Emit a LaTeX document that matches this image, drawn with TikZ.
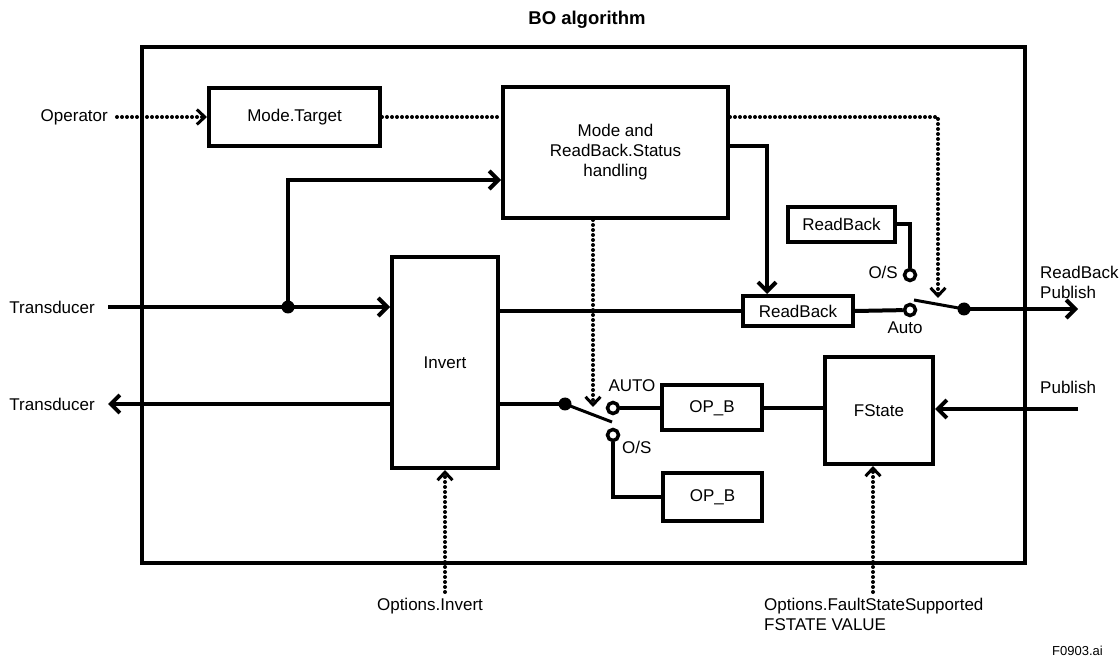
\documentclass[tikz,border=0pt]{standalone}
\usepackage{fontspec}
\setmainfont{Liberation Sans}
\usetikzlibrary{arrows.meta}
\newcommand\lbl{\fontsize{17}{20}\selectfont}
\tikzset{
  blk/.style={draw, line width=4pt, inner sep=0pt, font=\lbl, align=center},
  wire/.style={line width=4pt, line join=miter},
  dotw/.style={line width=4pt, line cap=round, dash pattern=on 0pt off 5pt},
  sarr/.style={-{Straight Barb[length=9pt,width=18pt]}},
  darr/.style={-{Straight Barb[length=8pt,width=15pt,line width=3pt]}},
  term/.style={circle, draw, line width=3.5pt, fill=white, minimum size=11pt, inner sep=0pt},
  jdot/.style={circle, fill, minimum size=13pt, inner sep=0pt},
  txt/.style={font=\lbl, inner sep=0pt}
}
\begin{document}
\begin{tikzpicture}[x=1pt,y=-1pt]
\useasboundingbox (0,0) rectangle (1120,660);
% title
\node[font=\fontsize{18.5}{22}\selectfont\bfseries, inner sep=0pt] (title) at (587,20) {BO algorithm};
% frame
\node[draw, line width=4pt, minimum width=883pt, minimum height=516pt, inner sep=0pt] (frame) at (583.5,305) {};
% blocks
\node[blk, minimum width=171pt, minimum height=58pt] (mt) at (294.5,117) {Mode.Target};
\node[blk, minimum width=225pt, minimum height=131pt] (mode) at (615.5,152.5) {Mode and\\ReadBack.Status\\handling};
\node[blk, minimum width=107pt, minimum height=35pt] (rb1) at (841.5,224.5) {ReadBack};
\node[blk, minimum width=110pt, minimum height=30pt] (rb2) at (798,311) {ReadBack};
\node[blk, minimum width=106pt, minimum height=211pt] (inv) at (445,362.5) {Invert};
\node[blk, minimum width=100pt, minimum height=45pt] (opb1) at (712,408) {OP\_B};
\node[blk, minimum width=99pt, minimum height=48pt] (opb2) at (712.5,497) {OP\_B};
\node[blk, minimum width=108pt, minimum height=107pt] (fs) at (879,410.5) {FState};
% outside labels
\node[txt, anchor=east] (op) at (108,117) {Operator};
\node[txt, anchor=east] (tin) at (95,307) {Transducer};
\node[txt, anchor=east] (tout) at (95,404) {Transducer};
\node[txt, anchor=west, align=left] (rbp) at (1040,282) {ReadBack\\Publish};
\node[txt, anchor=west] (pub) at (1040,387) {Publish};
\node[txt, anchor=north] (oinv) at (430,598) {Options.Invert};
\node[txt, anchor=north west, align=left] (ofs) at (764,598) {Options.FaultStateSupported\\FSTATE VALUE};
\node[font=\fontsize{13}{15}\selectfont, inner sep=0pt, anchor=east] (fig) at (1103,651) {F0903.ai};
% terminals and switches
\node[term] (ta1) at (910,310) {};
\node[term] (to1) at (910,275) {};
\node[jdot] (sw1) at (964,309) {};
\coordinate (lv1) at (914,300);
\node[txt] (autol1) at (905,328) {Auto};
\node[txt, anchor=east] (osl1) at (898,272) {O/S};
\node[term] (ta2) at (613,408) {};
\node[term] (to2) at (613,435) {};
\node[jdot] (sw2) at (565,404) {};
\coordinate (lv2) at (612,422);
\node[txt] (autol2) at (632,386) {AUTO};
\node[txt, anchor=west] (osl2) at (622,447) {O/S};
\node[jdot] (j1) at (288,307) {};
% free ends
\coordinate (tinS) at (108,307);
\coordinate (toutE) at (108,404);
\coordinate (rbpE) at (1078,309);
\coordinate (pubS) at (1078,409);
\coordinate (opS) at (117,117);
\coordinate (oinvS) at (445,592);
\coordinate (ofsS) at (873,592);
% solid wires
\draw[wire] (tinS) -- (j1.center);
\draw[wire, sarr] (j1.center) -- (inv.west |- j1);
\draw[wire, sarr] (j1.center) -- (288,180) -- (mode.west |- 0,180);
\draw[wire, sarr] (inv.west |- toutE) -- (toutE);
\draw[wire] (inv.east |- rb2) -- (rb2.west);
\draw[wire] (rb2.east) -- (ta1);
\draw[wire, sarr] (mode.east |- 0,146) -- (767,146) -- (767,0 |- rb2.north);
\draw[wire] (rb1.east) -- (910,224.5) -- (to1);
\draw[line width=3pt] (lv1) -- (sw1.center);
\draw[wire, sarr] (sw1.center) -- (rbpE);
\draw[wire] (inv.east |- sw2) -- (sw2.center);
\draw[line width=3pt] (sw2.center) -- (lv2);
\draw[wire] (ta2) -- (opb1.west);
\draw[wire] (opb1.east) -- (fs.west |- opb1);
\draw[wire] (to2) -- (613,497) -- (opb2.west);
\draw[wire, sarr] (pubS) -- (fs.east |- pubS);
% dotted wires
\draw[dotw, darr] (opS) -- (mt.west);
\draw[dotw] (mt.east) -- (mode.west |- mt);
\draw[dotw, darr] (mode.east |- 0,117) -- (938,117) -- (938,298);
\draw[dotw, darr] (593,0 |- mode.south) -- (593,407);
\draw[dotw, darr] (oinvS) -- (oinvS |- inv.south);
\draw[dotw, darr] (ofsS) -- (ofsS |- fs.south);
\end{tikzpicture}
\end{document}
